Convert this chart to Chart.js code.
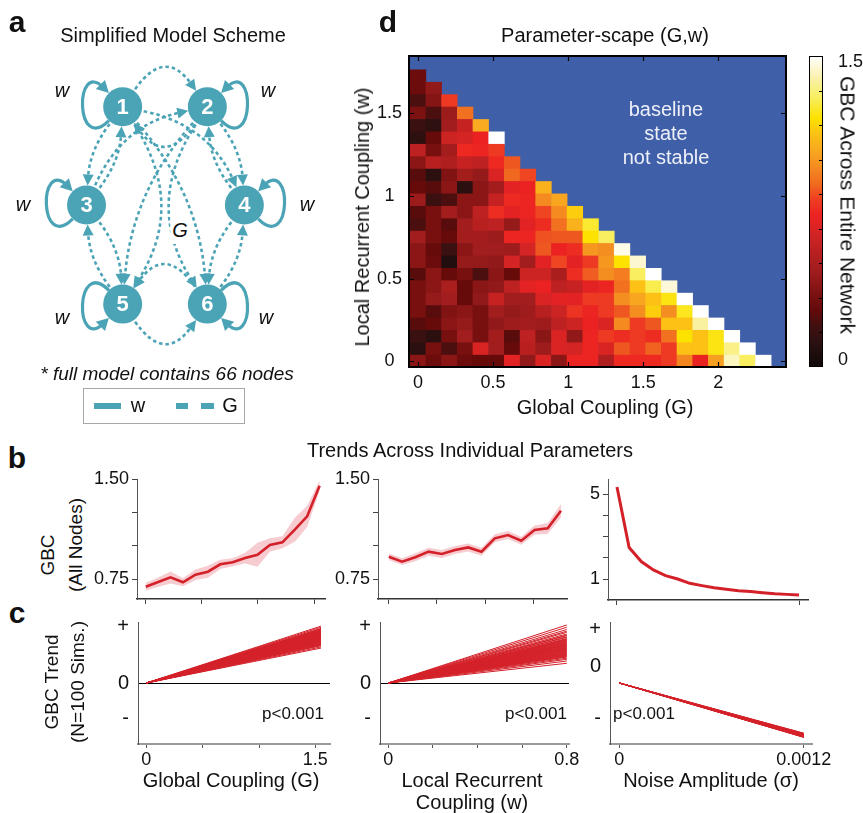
<!DOCTYPE html>
<html>
<head>
<meta charset="utf-8">
<script src="https://cdn.jsdelivr.net/npm/chart.js@4.4.0/dist/chart.umd.min.js"></script>
<style>
  html, body { margin: 0; padding: 0; background: #fff; }
  #page { position: relative; width: 863px; height: 813px; overflow: hidden;
          font-family: 'Liberation Sans', Arial, Helvetica, sans-serif; color: #111; }
  #page canvas { position: absolute; }
  .t { position: absolute; white-space: nowrap; line-height: 1; }
</style>
</head>
<body>
<div id="page"></div>
<script>
// ---------- data ----------
// panel a : toy network (node positions in the scheme)
var nodeX = [117, 213, 76, 255, 117, 213];
var nodeY = [96, 96, 204, 204, 313, 313];
// directed G edges: [from, to, bend]
var gEdges = [[0,1,-30],[1,0,-30],[5,4,30],[4,5,30],
              [0,2,8],[2,0,8],[1,3,-8],[3,1,-8],
              [4,2,-8],[2,4,-8],[5,3,8],[3,5,8],
              [0,4,-32],[1,5,32],[0,3,-20],[2,1,-20],[1,4,18],[0,5,-18]];

// panel d : GBC heatmap, rows bottom (w=0) to top
var gVals = [0,0.105,0.209,0.314,0.418,0.523,0.627,0.732,0.836,0.941,1.045,1.15,1.255,1.359,1.464,1.568,1.673,1.777,1.882,1.986,2.091,2.195,2.3];
var wVals = [0,0.075,0.15,0.225,0.3,0.375,0.45,0.525,0.6,0.675,0.75,0.825,0.9,0.975,1.05,1.125,1.2,1.275,1.35,1.425,1.5,1.575,1.65,1.725];
var heatRows = [
  [0.4,0.3,0.4,0.3,0.28,0.28,0.7,0.42,0.67,0.4,0.74,0.74,0.52,0.75,0.75,0.75,0.8,0.95,0.72,1.02,1.42,1.3,1.5],
  [0.12,0.34,0.22,0.34,0.67,0.47,0.28,0.55,0.46,0.67,0.65,0.74,0.67,0.85,0.8,0.87,0.8,1.12,1.12,1.22,1.35,1.5],
  [0.17,0.12,0.34,0.47,0.34,0.48,0.25,0.57,0.4,0.67,0.42,0.74,0.8,0.76,0.8,0.76,0.9,1.2,1.12,1.22,1.5],
  [0.25,0.28,0.4,0.43,0.34,0.42,0.46,0.48,0.46,0.57,0.62,0.73,0.67,0.96,0.8,0.85,1.12,1.12,1.38,1.5],
  [0.34,0.25,0.37,0.4,0.34,0.47,0.43,0.46,0.55,0.62,0.78,0.74,0.8,0.85,0.97,1.15,0.97,1.23,1.5],
  [0.34,0.43,0.47,0.28,0.42,0.6,0.47,0.47,0.67,0.7,0.7,0.8,0.8,0.97,1.04,1.12,1.22,1.5],
  [0.34,0.4,0.5,0.28,0.4,0.42,0.57,0.7,0.73,0.57,0.6,0.7,0.74,0.9,1.12,1.28,1.45],
  [0.25,0.4,0.28,0.34,0.22,0.4,0.28,0.62,0.62,0.5,0.76,0.86,0.97,0.93,1.3,1.5],
  [0.4,0.3,0.08,0.43,0.43,0.42,0.65,0.47,0.7,0.82,0.7,0.8,1.0,1.2,1.44],
  [0.4,0.28,0.17,0.4,0.47,0.47,0.46,0.65,0.85,0.73,0.76,1.0,0.97,1.47],
  [0.47,0.34,0.28,0.48,0.48,0.45,0.74,0.74,0.84,0.85,0.85,1.2,1.3],
  [0.22,0.34,0.25,0.47,0.55,0.57,0.43,0.7,0.76,0.9,1.07,1.25],
  [0.25,0.34,0.48,0.4,0.57,0.76,0.7,0.74,0.82,0.96,1.15],
  [0.45,0.17,0.22,0.4,0.4,0.6,0.75,0.74,0.96,1.04],
  [0.28,0.25,0.4,0.12,0.4,0.48,0.7,0.73,1.07],
  [0.25,0.12,0.37,0.48,0.43,0.67,0.88,0.82],
  [0.4,0.55,0.52,0.6,0.57,0.75,0.85],
  [0.57,0.34,0.48,0.75,0.74,0.8],
  [0.13,0.28,0.62,0.65,0.73,1.5],
  [0.17,0.13,0.47,0.6,1.05],
  [0.35,0.22,0.45,0.9],
  [0.22,0.38,0.8],
  [0.3,0.42],
  [0.3]
];
var heatXTicks = [0, 0.5, 1, 1.5, 2];
var heatYTicks = [0, 0.5, 1, 1.5];
var cbarTicks = [0, 0.1667, 0.3333, 0.5, 0.6667, 0.8333, 1, 1.1667, 1.3333, 1.5];
var cbarLabelAt = [0.034, 1.472];   // labels sit just inside the bar ends

// panel b : GBC vs each parameter (mean and spread)
var b1X = [0,0.111,0.221,0.332,0.443,0.554,0.664,0.775,0.886,0.996,1.107,1.218,1.329,1.439,1.55];
var b1Mean = [0.692,0.727,0.762,0.725,0.782,0.805,0.86,0.875,0.907,0.932,1.005,1.025,1.12,1.22,1.45];
var b1Sd = [0.03,0.035,0.045,0.03,0.04,0.045,0.035,0.03,0.04,0.09,0.05,0.045,0.09,0.08,0.04];
var b2X = [0,0.055,0.11,0.165,0.22,0.275,0.33,0.385,0.44,0.495,0.55,0.605,0.66,0.715];
var b2Mean = [0.917,0.88,0.913,0.955,0.938,0.967,0.987,0.955,1.055,1.08,1.037,1.117,1.13,1.262];
var b2Sd = [0.025,0.025,0.03,0.03,0.03,0.03,0.03,0.03,0.03,0.03,0.03,0.035,0.04,0.05];
var b3X = [0,0.00008,0.00016,0.00024,0.00032,0.0004,0.00048,0.00056,0.00064,0.00072,0.0008,0.00088,0.00096,0.00104,0.00112,0.0012];
var b3Mean = [5.33,2.49,1.83,1.44,1.17,1.01,0.81,0.7,0.6,0.53,0.46,0.42,0.37,0.32,0.29,0.26];

// panel c : fitted GBC trend per simulation (end value of each fitted line)
var c1XEnd = 1.55, c2XEnd = 0.8, c3XEnd = 0.0012;
var c1End = [1.01,0.99,0.97,0.96,0.95,0.95,0.94,0.93,0.92,0.92,0.91,0.9,0.9,0.89,0.88,0.88,0.87,0.87,0.86,0.85,0.85,0.84,0.84,0.83,0.82,0.82,0.81,0.8,0.8,0.79,0.79,0.78,0.77,0.77,0.76,0.75,0.75,0.74,0.73,0.73,0.72,0.71,0.7,0.7,0.69,0.68,0.67,0.66,0.64,0.62];
var c2End = [1.03,0.99,0.95,0.92,0.9,0.87,0.85,0.84,0.82,0.81,0.79,0.78,0.77,0.76,0.75,0.74,0.73,0.72,0.71,0.7,0.69,0.68,0.68,0.67,0.66,0.65,0.64,0.63,0.62,0.62,0.61,0.6,0.59,0.58,0.57,0.56,0.55,0.54,0.53,0.52,0.51,0.5,0.49,0.48,0.47,0.46,0.44,0.42,0.39,0.35];
var c3End = [-0.89,-0.895,-0.9,-0.905,-0.91,-0.91,-0.915,-0.92,-0.92,-0.92,-0.925,-0.925,-0.93,-0.93,-0.93,-0.935,-0.935,-0.94,-0.94,-0.94,-0.945,-0.945,-0.95,-0.95,-0.955,-0.955,-0.96,-0.96,-0.96,-0.965];

// ---------- styles ----------
var TEAL = '#4ba3b6', RED = '#d42029', BLUE = '#3f5fa9';
var NODE_R = 19.5;
var heatStops = [[0,'#100808'],[0.1,'#261010'],[0.2,'#421010'],[0.28,'#660a0a'],[0.36,'#7e1212'],
  [0.45,'#9c1c1c'],[0.55,'#b82020'],[0.65,'#d42424'],[0.73,'#ec2222'],[0.8,'#ee3a22'],[0.88,'#f06820'],
  [0.96,'#f58a20'],[1.05,'#f8aa20'],[1.13,'#fcc412'],[1.2,'#fde200'],[1.3,'#f8ee60'],[1.4,'#faf2b0'],[1.5,'#ffffff']];

Chart.defaults.font.family = "'Liberation Sans', Arial, Helvetica, sans-serif";
Chart.defaults.color = '#111';

var page = document.getElementById('page');

function hex(h) { return [parseInt(h.substr(1,2),16), parseInt(h.substr(3,2),16), parseInt(h.substr(5,2),16)]; }
function heatColor(v) {
  for (var i = 1; i < heatStops.length; i++) {
    if (v <= heatStops[i][0]) {
      var a = heatStops[i-1], b = heatStops[i], f = (v - a[0]) / (b[0] - a[0]);
      var ca = hex(a[1]), cb = hex(b[1]);
      return 'rgb(' + [0,1,2].map(function(k){ return Math.round(ca[k] + (cb[k]-ca[k])*f); }).join(',') + ')';
    }
  }
  return '#ffffff';
}

// put a chart so its chart area sits on area=[l,t,r,b]; m=[left,top,right,bottom] room around it
function place(area, m, cfg) {
  var c = document.createElement('canvas');
  var w = area[2] - area[0] + m[0] + m[2], h = area[3] - area[1] + m[1] + m[3];
  c.width = w; c.height = h;
  c.style.left = (area[0] - m[0]) + 'px';
  c.style.top = (area[1] - m[1]) + 'px';
  page.appendChild(c);
  var pad = {left: m[0], top: m[1], right: m[2], bottom: m[3]};
  var sc = cfg.options.scales;
  Object.keys(sc).forEach(function(k) {
    var s = sc[k];
    if (s.display === false) return;
    var side = s.position || (k === 'x' ? 'bottom' : 'left');
    var size = pad[side];
    pad[side] = 0;
    s.afterFit = function(ax) { if (ax.isHorizontal()) ax.height = size; else ax.width = size; };
  });
  cfg.options.responsive = false;
  cfg.options.animation = false;
  cfg.options.devicePixelRatio = 1;
  cfg.options.layout = {padding: pad};
  cfg.options.plugins = Object.assign({legend: {display: false}, tooltip: {enabled: false}}, cfg.options.plugins || {});
  return new Chart(c, cfg);
}

function setTicks(vals) { return function(s) { s.ticks = vals.map(function(v){ return {value: v}; }); }; }
function tickText(vals, texts) {
  return function(value) {
    for (var i = 0; i < vals.length; i++) if (Math.abs(vals[i] - value) < 1e-9) return texts[i];
    return '';
  };
}

function label(text, x, y, css, rot) {
  var d = document.createElement('div');
  d.className = 't';
  d.textContent = text;
  d.style.cssText = 'left:' + x + 'px;top:' + y + 'px;' + (css || '');
  d.style.transform = 'translate(-50%,-50%)' + (rot ? ' rotate(' + rot + 'deg)' : '');
  page.appendChild(d);
  return d;
}

// ---------- panel a : network scheme ----------
function unit(dx, dy) { var l = Math.sqrt(dx*dx + dy*dy); return [dx/l, dy/l]; }
function arrow(ctx, x, y, ang, len, half) {
  ctx.beginPath();
  ctx.moveTo(x, y);
  ctx.lineTo(x - len*Math.cos(ang) + half*Math.sin(ang), y - len*Math.sin(ang) - half*Math.cos(ang));
  ctx.lineTo(x - len*Math.cos(ang) - half*Math.sin(ang), y - len*Math.sin(ang) + half*Math.cos(ang));
  ctx.closePath();
  ctx.fill();
}
var netPlugin = {
  id: 'net',
  beforeDatasetsDraw: function(chart) {
    var ctx = chart.ctx, sx = chart.scales.x, sy = chart.scales.y;
    var P = nodeX.map(function(x, i){ return {x: sx.getPixelForValue(x), y: sy.getPixelForValue(nodeY[i])}; });
    ctx.save();
    ctx.strokeStyle = TEAL; ctx.fillStyle = TEAL;
    // G edges (dashed)
    ctx.lineWidth = 2.6;
    gEdges.forEach(function(e) {
      var a = P[e[0]], b = P[e[1]];
      var dx = b.x - a.x, dy = b.y - a.y, L = Math.sqrt(dx*dx + dy*dy);
      var nx = -dy / L, ny = dx / L;
      var cx = (a.x + b.x)/2 + nx*e[2]*2, cy = (a.y + b.y)/2 + ny*e[2]*2;
      var ua = unit(cx - a.x, cy - a.y), ub = unit(cx - b.x, cy - b.y);
      var s = {x: a.x + ua[0]*(NODE_R+2), y: a.y + ua[1]*(NODE_R+2)};
      var t = {x: b.x + ub[0]*NODE_R, y: b.y + ub[1]*NODE_R};
      var ang = Math.atan2(t.y - cy, t.x - cx);
      ctx.setLineDash([3.5, 3]);
      ctx.beginPath();
      ctx.moveTo(s.x, s.y);
      ctx.quadraticCurveTo(cx, cy, t.x - 8*Math.cos(ang), t.y - 8*Math.sin(ang));
      ctx.stroke();
      ctx.setLineDash([]);
      arrow(ctx, t.x, t.y, ang, 11, 5.5);
    });
    // w self loops (solid)
    ctx.lineWidth = 3.2;
    P.forEach(function(p, i) {
      var side = (i % 2 === 0) ? -1 : 1;
      var top = i < 4;
      var c1 = {x: p.x + side*48, y: p.y + 48}, c2 = {x: p.x + side*48, y: p.y - 48};
      var u1 = unit(c1.x - p.x, c1.y - p.y), u2 = unit(c2.x - p.x, c2.y - p.y);
      var p1 = {x: p.x + u1[0]*NODE_R, y: p.y + u1[1]*NODE_R};
      var p2 = {x: p.x + u2[0]*NODE_R, y: p.y + u2[1]*NODE_R};
      var s = top ? p1 : p2, t = top ? p2 : p1, cs = top ? c1 : c2, ct = top ? c2 : c1;
      var ang = Math.atan2(t.y - ct.y, t.x - ct.x);
      ctx.beginPath();
      ctx.moveTo(s.x, s.y);
      ctx.bezierCurveTo(cs.x, cs.y, ct.x, ct.y, t.x - 8*Math.cos(ang), t.y - 8*Math.sin(ang));
      ctx.stroke();
      arrow(ctx, t.x, t.y, ang, 12, 6.5);
    });
    ctx.restore();
  },
  afterDatasetsDraw: function(chart) {
    var ctx = chart.ctx, sx = chart.scales.x, sy = chart.scales.y;
    ctx.save();
    ctx.fillStyle = '#fff';
    ctx.font = "bold 22px 'Liberation Sans', Arial, sans-serif";
    ctx.textAlign = 'center'; ctx.textBaseline = 'middle';
    nodeX.forEach(function(x, i) {
      ctx.fillText(String(i + 1), sx.getPixelForValue(x), sy.getPixelForValue(nodeY[i]) + 1);
    });
    ctx.restore();
  }
};
place([0, 0, 330, 430], [0, 0, 0, 0], {
  type: 'scatter',
  data: {datasets: [{data: nodeX.map(function(x, i){ return {x: x, y: nodeY[i]}; }),
    pointRadius: NODE_R, backgroundColor: TEAL, borderWidth: 0}]},
  options: {scales: {
    x: {display: false, min: 0, max: 330},
    y: {display: false, min: 0, max: 430, reverse: true}
  }},
  plugins: [netPlugin]
});

// ---------- panel d : heatmap ----------
var wStep = wVals[1] - wVals[0];
var heatSets = heatRows.map(function(row, r) {
  return {
    data: row.map(function(v, c){ return {x: gVals[c], y: [wVals[r] - wStep/2, wVals[r] + wStep/2]}; }),
    backgroundColor: row.map(heatColor),
    borderWidth: 0, grouped: false, barPercentage: 1, categoryPercentage: 1
  };
});
var heatFrame = {
  id: 'heatFrame',
  beforeDatasetsDraw: function(chart) {
    var a = chart.chartArea, ctx = chart.ctx;
    ctx.save(); ctx.fillStyle = BLUE;
    ctx.fillRect(a.left, a.top, a.right - a.left, a.bottom - a.top);
    ctx.restore();
  },
  afterDatasetsDraw: function(chart) {
    var a = chart.chartArea, ctx = chart.ctx, sx = chart.scales.x, sy = chart.scales.y;
    ctx.save();
    ctx.strokeStyle = '#000'; ctx.lineWidth = 1.2;
    ctx.beginPath();
    sx.ticks.forEach(function(t) {
      var px = Math.round(sx.getPixelForValue(t.value)) + 0.5;
      ctx.moveTo(px, a.bottom); ctx.lineTo(px, a.bottom - 5);
      ctx.moveTo(px, a.top); ctx.lineTo(px, a.top + 5);
    });
    sy.ticks.forEach(function(t) {
      var py = Math.round(sy.getPixelForValue(t.value)) + 0.5;
      ctx.moveTo(a.left, py); ctx.lineTo(a.left + 5, py);
      ctx.moveTo(a.right, py); ctx.lineTo(a.right - 5, py);
    });
    ctx.stroke();
    ctx.lineWidth = 2;
    ctx.strokeRect(a.left, a.top, a.right - a.left, a.bottom - a.top);
    ctx.restore();
  }
};
place([409, 56, 786, 367], [40, 30, 5, 30], {
  type: 'bar',
  data: {datasets: heatSets},
  options: {scales: {
    x: {type: 'linear', min: -0.06, max: 2.451, offset: false,
        grid: {display: false, drawTicks: false, offset: false}, border: {display: false},
        afterBuildTicks: setTicks(heatXTicks),
        ticks: {padding: 5, font: {size: 18}, maxRotation: 0, autoSkip: false,
                callback: tickText(heatXTicks, ['0','0.5','1','1.5','2'])}},
    y: {type: 'linear', min: -0.034, max: 1.846,
        grid: {display: false, drawTicks: false}, border: {display: false},
        afterBuildTicks: setTicks(heatYTicks),
        ticks: {padding: 7, crossAlign: 'center', font: {size: 18},
                callback: tickText(heatYTicks, ['0','0.5','1','1.5'])}}
  }},
  plugins: [heatFrame]
});

// colour bar
var cbarFrame = {
  id: 'cbarFrame',
  afterDatasetsDraw: function(chart) {
    var a = chart.chartArea, ctx = chart.ctx, sy = chart.scales.y;
    ctx.save();
    ctx.strokeStyle = '#000'; ctx.lineWidth = 1;
    ctx.beginPath();
    cbarTicks.slice(1, -1).forEach(function(v) {
      var py = Math.round(sy.getPixelForValue(v)) + 0.5;
      ctx.moveTo(a.right, py); ctx.lineTo(a.right - 4, py);
    });
    ctx.stroke();
    ctx.strokeRect(a.left + 0.5, a.top + 0.5, a.right - a.left - 1, a.bottom - a.top - 1);
    ctx.restore();
  }
};
place([809, 56, 823, 367], [2, 34, 40, 34], {
  type: 'bar',
  data: {labels: [''], datasets: [{
    data: [[0, 1.5]], borderWidth: 0, barPercentage: 1, categoryPercentage: 1,
    backgroundColor: function(c) {
      var ca = c.chart.chartArea;
      if (!ca) return '#000';
      var g = c.chart.ctx.createLinearGradient(0, ca.bottom, 0, ca.top);
      heatStops.forEach(function(s){ g.addColorStop(s[0] / 1.5, s[1]); });
      return g;
    }
  }]},
  options: {scales: {
    x: {display: false},
    y: {position: 'right', min: 0, max: 1.5, grid: {display: false, drawTicks: false}, border: {display: false},
        afterBuildTicks: setTicks(cbarLabelAt),
        ticks: {padding: 15, crossAlign: 'near', font: {size: 18},
                callback: tickText(cbarLabelAt, ['0', '1.5'])}}
  }},
  plugins: [cbarFrame]
});

// ---------- panel b : trends ----------
function bScales(xr, xt, yr, yt, ylab) {
  return {
    x: {type: 'linear', min: xr[0], max: xr[1],
        grid: {drawOnChartArea: false, tickLength: 5, color: '#444'},
        border: {color: '#333', width: 1.5},
        afterBuildTicks: setTicks(xt),
        ticks: {callback: function(){ return ''; }, autoSkip: false}},
    y: {type: 'linear', min: yr[0], max: yr[1],
        grid: {drawOnChartArea: false, tickLength: 5, color: '#444'},
        border: {color: '#555', width: 1},
        afterBuildTicks: setTicks(yt),
        ticks: {padding: 3, font: {size: 18}, autoSkip: false, callback: tickText(yt, ylab)}}
  };
}
function bandSets(xs, mean, sd) {
  return [
    {data: xs.map(function(x, i){ return {x: x, y: mean[i]}; }), borderColor: RED, borderWidth: 2.6,
     pointRadius: 0, fill: false},
    {data: xs.map(function(x, i){ return {x: x, y: mean[i] + sd[i]}; }), borderWidth: 0, pointRadius: 0,
     fill: '+1', backgroundColor: 'rgba(232,110,122,0.35)'},
    {data: xs.map(function(x, i){ return {x: x, y: mean[i] - sd[i]}; }), borderWidth: 0, pointRadius: 0, fill: false}
  ];
}
place([137, 479, 325, 599], [50, 30, 20, 24], {
  type: 'line', data: {datasets: bandSets(b1X, b1Mean, b1Sd)},
  options: {scales: bScales([-0.078, 1.598], [0, 0.5, 1, 1.5], [0.6, 1.5], [0.75, 1, 1.25, 1.5], ['0.75', '', '', '1.50'])}
});
place([378, 479, 567, 599], [50, 30, 20, 24], {
  type: 'line', data: {datasets: bandSets(b2X, b2Mean, b2Sd)},
  options: {scales: bScales([-0.045, 0.74], [0, 0.2, 0.4, 0.6], [0.6, 1.5], [0.75, 1, 1.25, 1.5], ['0.75', '', '', '1.50'])}
});
place([608, 479, 808, 600], [40, 30, 20, 24], {
  type: 'line',
  data: {datasets: [{data: b3X.map(function(x, i){ return {x: x, y: b3Mean[i]}; }), borderColor: RED,
    borderWidth: 3, pointRadius: 0}]},
  options: {scales: bScales([-0.0000593, 0.001259], [0, 0.0012], [0.026, 5.706], [1, 2, 3, 4, 5], ['1', '', '', '', '5'])}
});

// ---------- panel c : per-simulation trend lines ----------
function fanSets(xEnd, ends) {
  return ends.map(function(v) {
    return {data: [{x: 0, y: 0}, {x: xEnd, y: v}], borderColor: RED, borderWidth: 1, pointRadius: 0};
  });
}
function cScales(xr, xt, xlab, yt) {
  return {
    x: {type: 'linear', min: xr[0], max: xr[1],
        grid: {drawOnChartArea: false, tickLength: 4, color: '#555'},
        border: {color: '#9a9a9a', width: 2},
        afterBuildTicks: setTicks(xt),
        ticks: {padding: 1, font: {size: 18}, maxRotation: 0, autoSkip: false, callback: tickText(xt, xlab)}},
    y: {type: 'linear', min: -1.083, max: 1.083,
        grid: {drawTicks: false, lineWidth: 1,
               color: function(c){ return (c.tick && c.tick.value === 0) ? '#000' : 'rgba(0,0,0,0)'; }},
        border: {color: '#555', width: 1},
        afterBuildTicks: setTicks(yt),
        ticks: {padding: 9, font: {size: 20}, autoSkip: false, callback: tickText(yt, ['+', '0', '-'])}}
  };
}
place([138, 622, 330, 744], [50, 34, 30, 34], {
  type: 'line', data: {datasets: fanSets(c1XEnd, c1End)},
  options: {scales: cScales([-0.074, 1.63], [0, 0.5, 1, 1.5], ['0', '', '', '1.5'], [1, 0, -0.63])}
});
place([380, 622, 569, 744], [50, 34, 30, 34], {
  type: 'line', data: {datasets: fanSets(c2XEnd, c2End)},
  options: {scales: cScales([-0.037, 0.81], [0, 0.2, 0.4, 0.6, 0.8], ['0', '', '', '', '0.8'], [1, 0, -0.63])}
});
place([610, 622, 812, 744], [50, 34, 40, 34], {
  type: 'line', data: {datasets: fanSets(c3XEnd, c3End)},
  options: {scales: cScales([-0.0000607, 0.001254], [0, 0.0012], ['0', '0.0012'], [0.95, 0.29, -0.63])}
});

// ---------- text ----------
var F20 = 'font-size:20px;';
label('a', 17, 22, 'font-size:30px;font-weight:bold;');
label('Simplified Model Scheme', 173, 35, F20);
[[62,90],[268,90],[23,204],[307,204],[62,317],[266,317]].forEach(function(p) {
  label('w', p[0], p[1], F20 + 'font-style:italic;');
});
label('G', 180, 230, F20 + 'font-style:italic;background:#fff;padding:4px 2px;');
label('* full model contains 66 nodes', 167, 373, 'font-size:19px;font-style:italic;');
var lg = document.createElement('div');
lg.style.cssText = 'position:absolute;left:83px;top:388px;width:162px;height:36px;border:1px solid #a8a8a8;box-sizing:border-box;';
page.appendChild(lg);
[[10, 27], [92, 12], [117, 13]].forEach(function(s) {
  var b = document.createElement('div');
  b.style.cssText = 'position:absolute;left:' + s[0] + 'px;top:14px;width:' + s[1] + 'px;height:6px;background:' + TEAL + ';';
  lg.appendChild(b);
});
label('w', 138, 405, F20);
label('G', 230, 405, F20);

label('d', 388, 22, 'font-size:30px;font-weight:bold;');
label('Parameter-scape (G,w)', 605, 35, F20);
label('Local Recurrent Coupling (w)', 362, 217, F20, -90);
label('Global Coupling (G)', 605, 407, F20);
label('baseline', 666, 109, F20 + 'color:#eef0f8;');
label('state', 666, 133, F20 + 'color:#eef0f8;');
label('not stable', 666, 157, F20 + 'color:#eef0f8;');
label('GBC Across Entire Network', 848, 205, 'font-size:21px;', 90);

label('b', 17, 458, 'font-size:30px;font-weight:bold;');
label('Trends Across Individual Parameters', 470, 450, F20);
label('GBC', 47, 555, 'font-size:19px;', -90);
label('(All Nodes)', 75, 545, 'font-size:19px;', -90);

label('c', 17, 613, 'font-size:30px;font-weight:bold;');
label('GBC Trend', 51, 682, 'font-size:19px;', -90);
label('(N=100 Sims.)', 77, 682, 'font-size:19px;', -90);
label('p<0.001', 293, 713, 'font-size:17px;');
label('p<0.001', 536, 713, 'font-size:17px;');
label('p<0.001', 644, 713, 'font-size:17px;');
label('Global Coupling (G)', 231, 780, F20);
label('Local Recurrent', 472, 780, F20);
label('Coupling (w)', 472, 802, F20);
label('Noise Amplitude (\u03c3)', 711, 780, F20);
</script>
</body>
</html>
